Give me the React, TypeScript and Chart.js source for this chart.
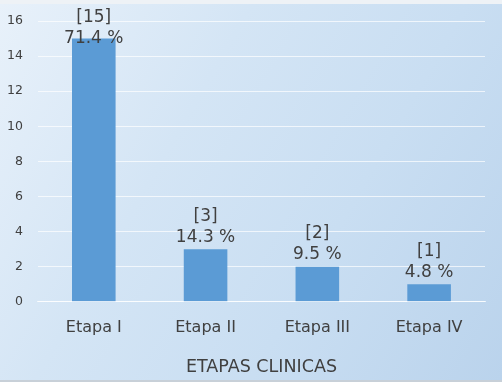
import React, { useEffect, useRef } from "react";
import { Chart, registerables } from "chart.js";

Chart.register(...registerables);

const categories = ["Etapa I", "Etapa II", "Etapa III", "Etapa IV"];
const counts = [15, 3, 2, 1];
const percentLabels = ["71.4 %", "14.3 %", "9.5 %", "4.8 %"];
const axisTitle = "ETAPAS CLINICAS";

const FONT = "'DejaVu Sans', Verdana, sans-serif";
const TEXT = "#404040";

const labelPlugin = {
  id: "barLabels",
  afterDatasetsDraw(chart: any) {
    const { ctx, chartArea } = chart;
    const meta = chart.getDatasetMeta(0);
    ctx.save();
    ctx.font = `17px ${FONT}`;
    ctx.fillStyle = TEXT;
    ctx.textAlign = "center";
    ctx.textBaseline = "middle";
    meta.data.forEach((bar: any, i: number) => {
      let y2 = bar.y - 12;
      const minY2 = chartArea.top + 18;
      if (y2 < minY2) y2 = minY2;
      const y1 = y2 - 21;
      ctx.fillText(`[${counts[i]}]`, bar.x, y1);
      ctx.fillText(percentLabels[i], bar.x, y2);
    });
    ctx.restore();
  },
};

export default function App() {
  const ref = useRef<HTMLCanvasElement>(null);
  useEffect(() => {
    document.body.style.margin = "0";
    const chart = new Chart(ref.current!, {
      type: "bar",
      data: {
        labels: categories,
        datasets: [
          {
            data: counts,
            backgroundColor: "#5b9bd5",
            barPercentage: 0.78,
            categoryPercentage: 0.5,
          },
        ],
      },
      options: {
        animation: false,
        responsive: false,
        maintainAspectRatio: false,
        layout: { padding: { top: 17, right: 17, left: -8, bottom: 2 } },
        plugins: { legend: { display: false }, tooltip: { enabled: false } },
        scales: {
          x: {
            grid: { display: false },
            border: { color: "rgba(255,255,255,0.7)" },
            ticks: { color: TEXT, font: { family: FONT, size: 16 }, padding: 8 },
            title: {
              display: true,
              text: axisTitle,
              color: TEXT,
              font: { family: FONT, size: 17.5 },
              padding: { top: 12, bottom: 0 },
            },
          },
          y: {
            min: 0,
            max: 16,
            afterFit(scale: any) {
              scale.paddingTop = 7;
            },
            ticks: { stepSize: 2, color: TEXT, font: { family: FONT, size: 12.5 }, padding: 15 },
            grid: { color: "rgba(255,255,255,0.7)", drawTicks: false },
            border: { display: false },
          },
        },
      },
      plugins: [labelPlugin],
    });
    return () => chart.destroy();
  }, []);
  return (
    <div
      style={{
        position: "relative",
        width: 502,
        height: 382,
        boxSizing: "border-box",
        borderTop: "4px solid #eef2f6",
        borderBottom: "2px solid #c8d0d8",
        background:
          "linear-gradient(120deg, #e8f1fa 0%, #d4e5f5 35%, #c9def2 65%, #bad3ec 100%)",
      }}
    >
      <canvas ref={ref} width={502} height={376} style={{ display: "block" }} />
    </div>
  );
}
